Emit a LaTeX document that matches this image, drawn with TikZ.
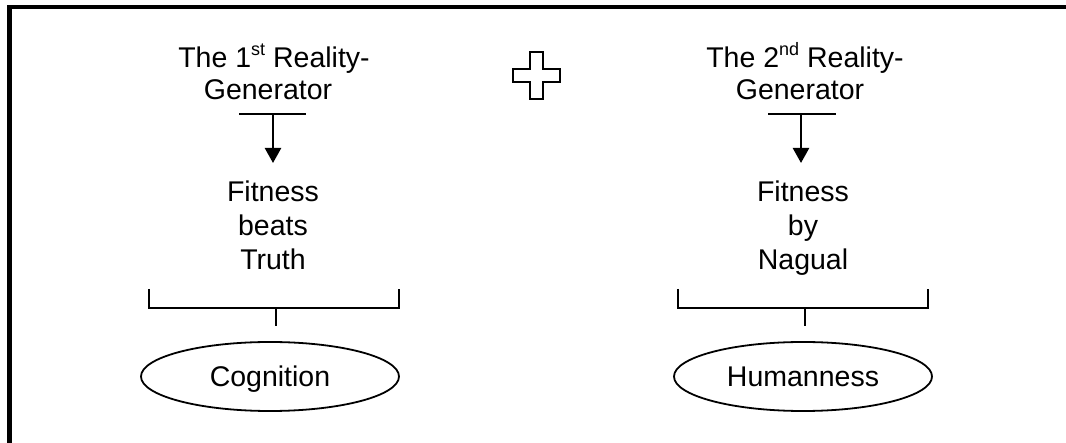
\documentclass[tikz,border=0pt]{standalone}
\usepackage{fontspec}
\setmainfont{Liberation Sans}
\usetikzlibrary{arrows.meta,shapes.geometric}
\newcommand{\supx}[1]{\raisebox{0.45em}{\fontsize{18}{18}\selectfont #1}}
\begin{document}
\begin{tikzpicture}[x=1pt,y=-1pt,
  txt/.style={align=center,inner sep=0pt,anchor=base,font=\fontsize{28.5}{34}\selectfont},
  thin/.style={line width=1.6pt},
  arr/.style={line width=2.4pt,-{Triangle[width=16pt,length=15pt]}},
  brk/.style={line width=2.2pt},
  oval/.style={ellipse,draw,line width=1.8pt,minimum width=258pt,minimum height=69pt,inner sep=0pt,text height=24pt,text depth=3pt,font=\fontsize{28.5}{34}\selectfont},
  frame/.style={line width=4.5pt}]
\useasboundingbox (0,0) rectangle (1066,443);
% frame
\draw[frame] (9.5,443) -- (9.5,7) -- (1066,7);
% plus sign
\draw[line width=1.6pt] (530,52) -- (543,52) -- (543,69) -- (560,69) -- (560,82) -- (543,82) -- (543,99) -- (530,99) -- (530,82) -- (513,82) -- (513,69) -- (530,69) -- cycle;
% left column
\node[txt] (g1a) at (274,68) {The 1\supx{st} Reality-};
\node[txt] (g1b) at (268,100) {Generator};
\coordinate (b1l) at (239,114);
\coordinate (b1r) at (306,114);
\coordinate (b1c) at (273,114);
\coordinate (t1) at (273,163);
\draw[thin] (b1l) -- (b1r);
\draw[arr] (b1c) -- (t1);
\node[txt] (f1a) at (273,202) {Fitness};
\node[txt] (f1b) at (273,236) {beats};
\node[txt] (f1c) at (273,270) {Truth};
\coordinate (k1l) at (149,289);
\coordinate (k1r) at (399,289);
\coordinate (k1m) at (276,308);
\coordinate (k1t) at (276,326);
\draw[brk] (k1l) -- (149,308) -- (399,308) -- (k1r);
\draw[brk] (k1m) -- (k1t);
\node[oval] (c1) at (270,376.5) {Cognition};
% right column
\node[txt] (g2a) at (805,68) {The 2\supx{nd} Reality-};
\node[txt] (g2b) at (800,100) {Generator};
\coordinate (b2l) at (768,114);
\coordinate (b2r) at (836,114);
\coordinate (b2c) at (801,114);
\coordinate (t2) at (801,163);
\draw[thin] (b2l) -- (b2r);
\draw[arr] (b2c) -- (t2);
\node[txt] (f2a) at (803,202) {Fitness};
\node[txt] (f2b) at (803,236) {by};
\node[txt] (f2c) at (803,270) {Nagual};
\coordinate (k2l) at (678,289);
\coordinate (k2r) at (928,289);
\coordinate (k2m) at (805,308);
\coordinate (k2t) at (805,326);
\draw[brk] (k2l) -- (678,308) -- (928,308) -- (k2r);
\draw[brk] (k2m) -- (k2t);
\node[oval] (c2) at (803,376.5) {Humanness};
\end{tikzpicture}
\end{document}
